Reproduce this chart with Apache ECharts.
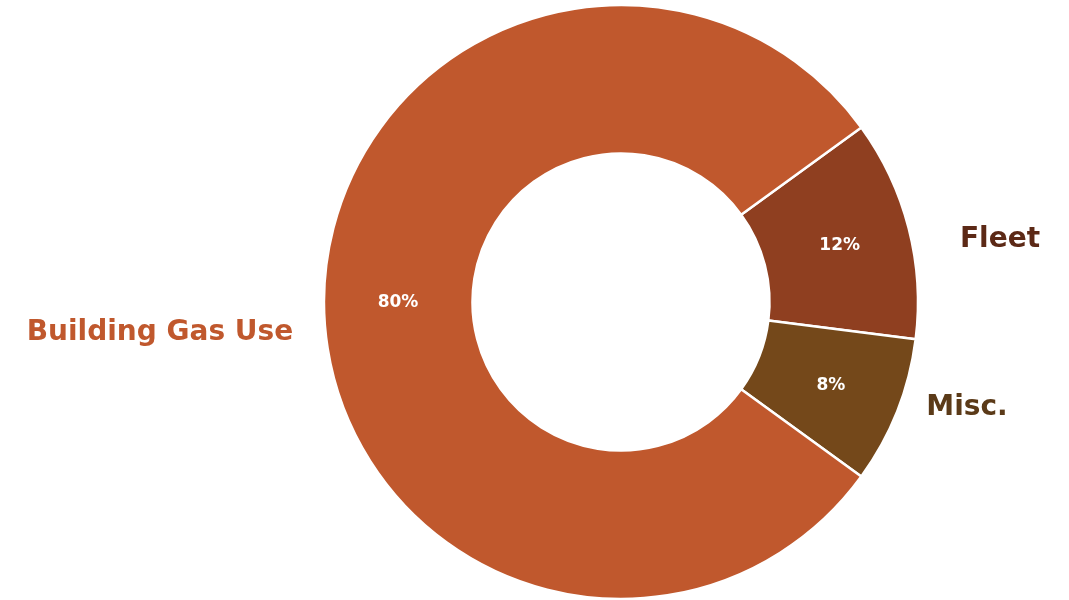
<!DOCTYPE html>
<html><head><meta charset="utf-8">
<script src="https://cdn.jsdelivr.net/npm/echarts@6/dist/echarts.min.js"></script>
<style>html,body{margin:0;padding:0;background:#fff}#c{width:1069px;height:600px}</style>
</head><body><div id="c"></div>
<script>
const categories = ['Fleet', 'Misc.', 'Building Gas Use'];
const values = [12, 8, 80];
const sliceColors = ['#8F3F20', '#74481A', '#C0582D'];
const nameColors = ['#5C2916', '#5B3A18', '#C0582D'];

const chart = echarts.init(document.getElementById('c'));
const center = [621, 302];
const radius = ['49.5%', '99%'];
const nameLabelPos = [[1000, 240], [967, 408], [160, 333]];
const pctLabelPos = [null, null, [398, 303]];

const data = categories.map((n, i) => ({ name: n, value: values[i], itemStyle: { color: sliceColors[i] } }));
const data2 = categories.map((n, i) => ({ name: n, value: values[i], label: { color: nameColors[i] } }));

chart.setOption({
  animation: false,
  series: [
    {
      type: 'pie', center, radius, startAngle: 36, clockwise: true,
      data,
      itemStyle: { borderColor: '#fff', borderWidth: 2.5 },
      label: { position: 'inside', formatter: '{c}%', color: '#fff', fontSize: 17, fontWeight: 'bold', fontFamily: 'DejaVu Sans' },
      labelLine: { show: false },
      labelLayout: p => pctLabelPos[p.dataIndex] ? { x: pctLabelPos[p.dataIndex][0], y: pctLabelPos[p.dataIndex][1], align: 'center', verticalAlign: 'middle' } : {},
      emphasis: { disabled: true }
    },
    {
      type: 'pie', center, radius, startAngle: 36, clockwise: true, silent: true,
      data: data2,
      itemStyle: { color: 'rgba(0,0,0,0)' },
      label: { position: 'outside', formatter: '{b}', overflow: 'none', width: 400, fontSize: 28, fontWeight: 'bold', fontFamily: 'DejaVu Sans' },
      labelLine: { show: false },
      labelLayout: p => ({ x: nameLabelPos[p.dataIndex][0], y: nameLabelPos[p.dataIndex][1], align: 'center', verticalAlign: 'middle' }),
      emphasis: { disabled: true }
    }
  ]
});
</script></body></html>
